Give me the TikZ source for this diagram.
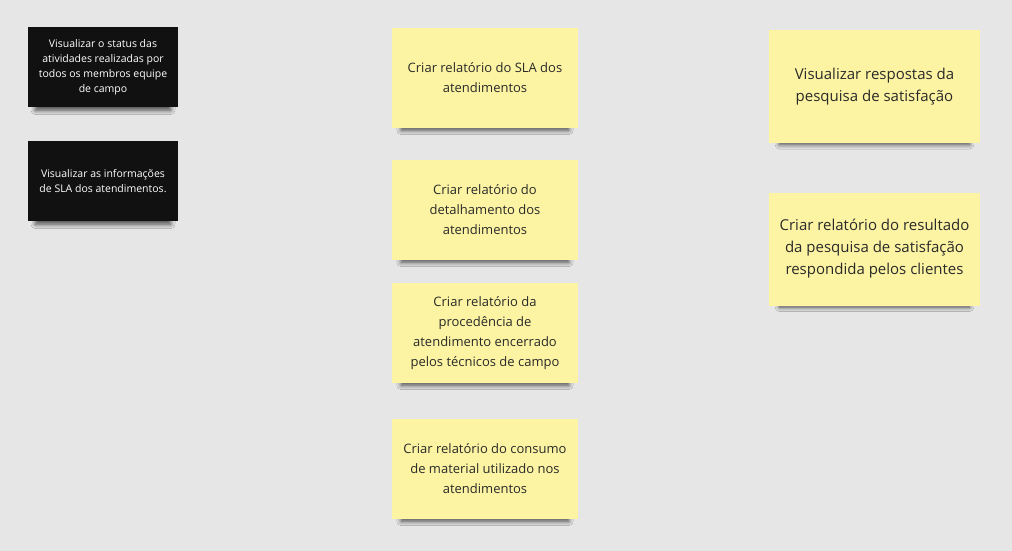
\documentclass[tikz,border=0pt]{standalone}
\usepackage{fontspec}
\setmainfont{Open Sans}
\usetikzlibrary{shadows.blur}
\definecolor{bg}{HTML}{E6E6E6}
\definecolor{sticky}{HTML}{FCF4A3}
\definecolor{blacknote}{HTML}{111111}
\definecolor{ink}{HTML}{2A2A2A}
\tikzset{
  note/.style={rectangle, inner sep=0pt, align=center,
    blur shadow={shadow xshift=0pt, shadow yshift=-8pt, shadow scale=0.9,
      shadow opacity=70, shadow blur radius=5pt, shadow blur steps=8}},
  darknote/.style={note, fill=blacknote, text=white, minimum width=150pt, minimum height=80pt,
    font=\fontsize{10.5}{15}\selectfont},
  midnote/.style={note, fill=sticky, text=ink, minimum width=186pt, minimum height=100pt,
    font=\fontsize{13}{20}\selectfont},
  rightnote/.style={note, fill=sticky, text=ink, minimum width=211pt, minimum height=113pt,
    font=\fontsize{15}{22}\selectfont},
}
\begin{document}
\begin{tikzpicture}[x=1pt,y=-1pt]
\fill[bg] (0,0) rectangle (1012,551);
\useasboundingbox (0,0) rectangle (1012,551);
\node[darknote] (b1) at (103,67) {Visualizar o status das\\atividades realizadas por\\todos os membros equipe\\de campo};
\node[darknote] (b2) at (103,181) {Visualizar as informações\\de SLA dos atendimentos.};
\node[midnote] (m1) at (485,78) {Criar relatório do SLA dos\\atendimentos};
\node[midnote] (m2) at (485,210) {Criar relatório do\\detalhamento dos\\atendimentos};
\node[midnote] (m3) at (485,333) {Criar relatório da\\procedência de\\atendimento encerrado\\pelos técnicos de campo};
\node[midnote] (m4) at (485,469) {Criar relatório do consumo\\de material utilizado nos\\atendimentos};
\node[rightnote] (r1) at (874.5,86.5) {Visualizar respostas da\\pesquisa de satisfação};
\node[rightnote] (r2) at (874.5,249) {Criar relatório do resultado\\da pesquisa de satisfação\\respondida pelos clientes};
\end{tikzpicture}
\end{document}
